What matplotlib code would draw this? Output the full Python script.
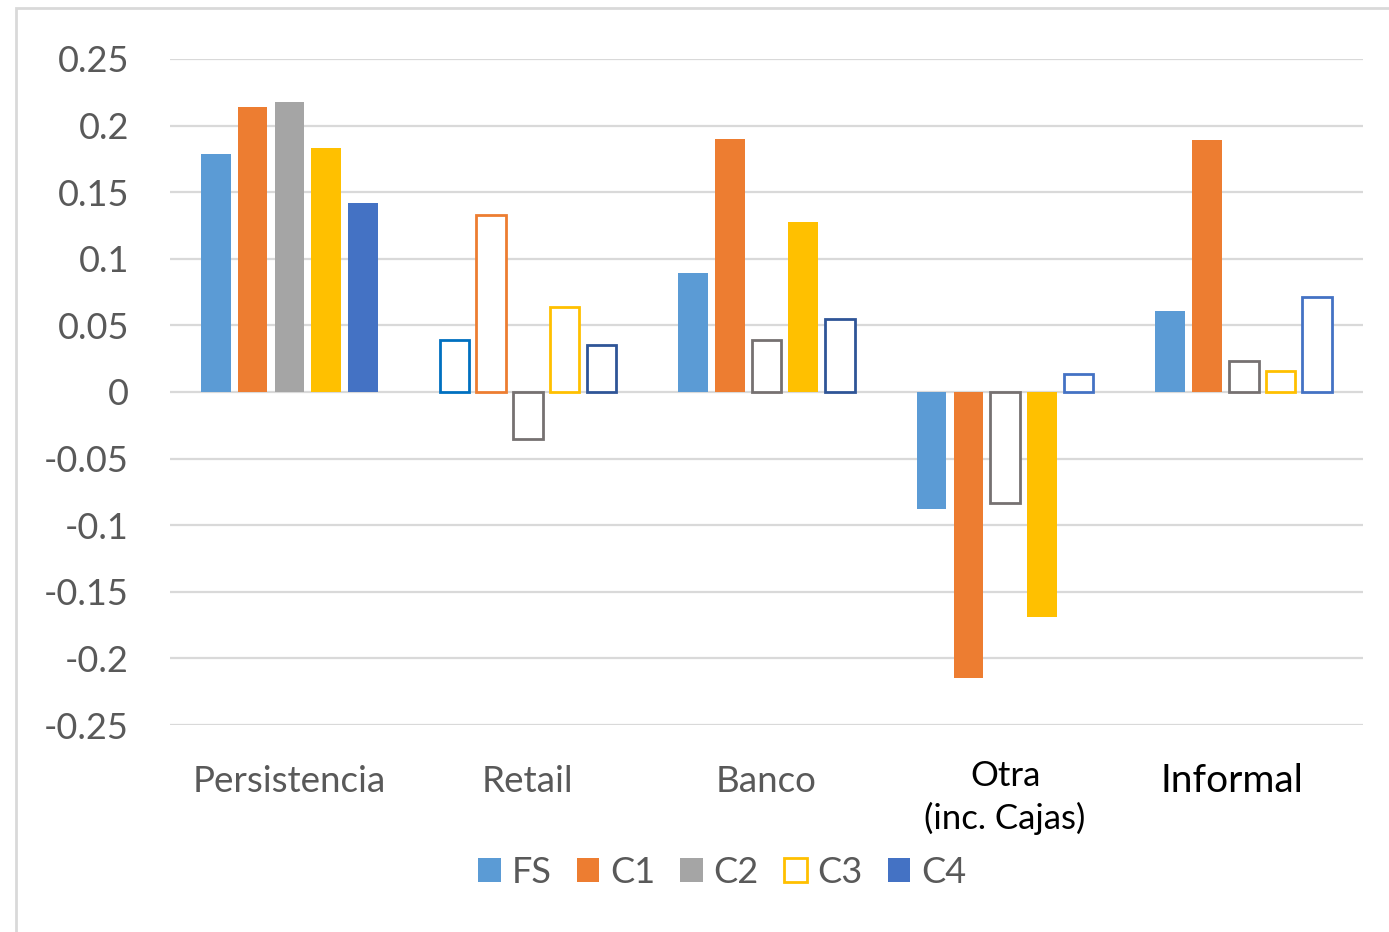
import matplotlib.pyplot as plt
import matplotlib.patches as mpatches
import numpy as np

plt.rcParams['font.family'] = ['Lato', 'DejaVu Sans']

categories = ["Persistencia", "Retail", "Banco", "Otra\n(inc. Cajas)", "Informal"]
series = ["FS", "C1", "C2", "C3", "C4"]

fs = [0.179, 0.039, 0.089, -0.088, 0.061]
c1 = [0.214, 0.133, 0.190, -0.215, 0.189]
c2 = [0.218, -0.035, 0.039, -0.083, 0.023]
c3 = [0.183, 0.064, 0.128, -0.169, 0.016]
c4 = [0.142, 0.035, 0.055, 0.0135, 0.071]

# True where the bar is drawn as an outline only
fs_hollow = [False, True, False, False, False]
c1_hollow = [False, True, False, False, False]
c2_hollow = [False, True, True, True, True]
c3_hollow = [False, True, False, False, True]
c4_hollow = [False, True, True, True, True]

fill_colors = ["#5B9BD5", "#ED7D31", "#A5A5A5", "#FFC000", "#4472C4"]
edge_colors = [
    ["#5B9BD5", "#0070C0", "#5B9BD5", "#5B9BD5", "#5B9BD5"],
    ["#ED7D31"] * 5,
    ["#A5A5A5", "#767171", "#767171", "#767171", "#767171"],
    ["#FFC000"] * 5,
    ["#4472C4", "#2F5597", "#2F5597", "#4472C4", "#4472C4"],
]

values = [fs, c1, c2, c3, c4]
hollow = [fs_hollow, c1_hollow, c2_hollow, c3_hollow, c4_hollow]

yticks = [0.25, 0.2, 0.15, 0.1, 0.05, 0, -0.05, -0.1, -0.15, -0.2, -0.25]
ytick_labels = ["0.25", "0.2", "0.15", "0.1", "0.05", "0", "-0.05", "-0.1", "-0.15", "-0.2", "-0.25"]

fig = plt.figure(figsize=(13.89, 9.32), dpi=100)
ax = fig.add_axes([0.1224, 0.2221, 0.8589, 0.7146])

x = np.arange(len(categories))
pitch = 0.154
width = 0.124
for i, name in enumerate(series):
    pos = x + (i - 2) * pitch
    for j in range(len(categories)):
        if hollow[i][j]:
            ax.bar(pos[j], values[i][j], width, facecolor="white",
                   edgecolor=edge_colors[i][j], linewidth=2.0, zorder=3)
        else:
            ax.bar(pos[j], values[i][j], width, color=fill_colors[i],
                   linewidth=0, zorder=3)

ax.set_xlim(-0.5, len(categories) - 0.5)
ax.set_ylim(-0.25, 0.25)
ax.set_yticks(yticks)
ax.set_yticklabels(ytick_labels)
ax.yaxis.grid(True, color="#D9D9D9", linewidth=1.6, zorder=0)
ax.set_axisbelow(True)
for s in ax.spines.values():
    s.set_visible(False)
ax.tick_params(axis="y", length=0, pad=29.5, labelsize=26, labelcolor="#595959")
ax.tick_params(axis="x", length=0, pad=0)
ax.set_xticks(x)
ax.set_xticklabels([])

# category labels, placed by baseline in axes-fraction y
tr = ax.get_xaxis_transform()
ax.text(x[0], -0.1006, "Persistencia", ha="center", va="baseline", fontsize=26.5,
        color="#595959", transform=tr)
ax.text(x[1], -0.1006, "Retail", ha="center", va="baseline", fontsize=26.5,
        color="#595959", transform=tr)
ax.text(x[2], -0.1006, "Banco", ha="center", va="baseline", fontsize=26.5,
        color="#595959", transform=tr)
ax.text(x[3], -0.0916, "Otra", ha="center", va="baseline", fontsize=25,
        color="black", transform=tr)
ax.text(x[3], -0.156, "(inc. Cajas)", ha="center", va="baseline", fontsize=25,
        color="black", transform=tr)
ax.text(x[4] - 0.05, -0.1006, "Informal", ha="center", va="baseline", fontsize=28,
        color="black", transform=tr)

handles = []
for i, name in enumerate(series):
    if name == "C3":
        handles.append(mpatches.Patch(facecolor="white", edgecolor=fill_colors[i],
                                      linewidth=2.0, label=name))
    else:
        handles.append(mpatches.Patch(facecolor=fill_colors[i], linewidth=0, label=name))
fig.legend(handles=handles, loc="center", bbox_to_anchor=(0.52, 0.064), ncol=5,
           frameon=False, fontsize=26, handlelength=0.62, handleheight=0.62,
           handletextpad=0.3, columnspacing=0.7, labelcolor="#595959")

# light border around the chart area
fig.patches.append(mpatches.Rectangle((16 / 1389, -0.1), 1.2, 1 - 8 / 932 + 0.1,
                                      transform=fig.transFigure, fill=False,
                                      edgecolor="#D9D9D9", linewidth=2.0))

fig.savefig("out.png", dpi=100)
